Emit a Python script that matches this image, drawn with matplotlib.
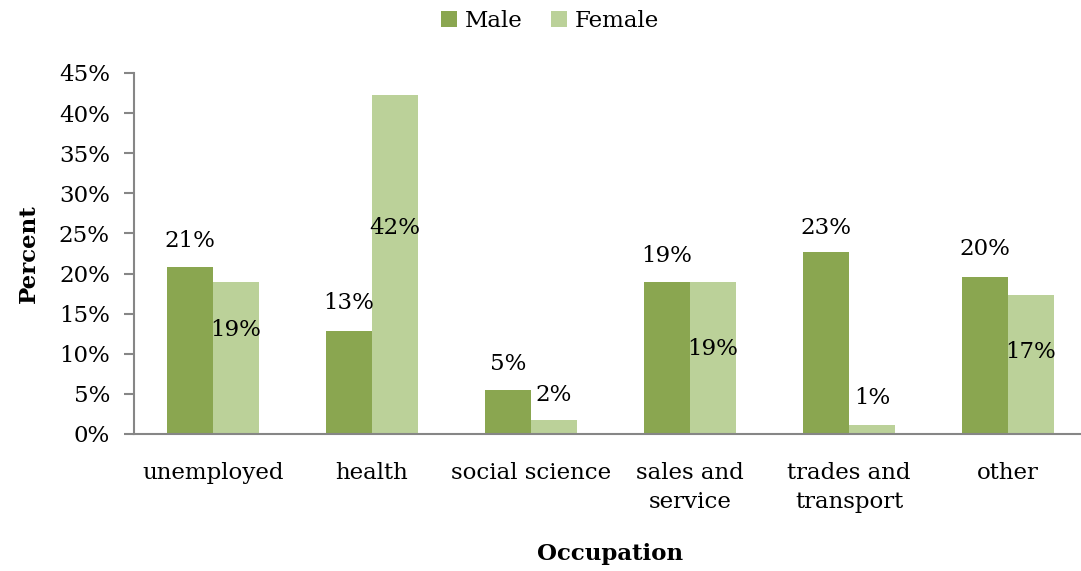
import matplotlib
matplotlib.use("Agg")
import matplotlib.pyplot as plt
import numpy as np

categories = ["unemployed", "health", "social science", "sales and\nservice", "trades and\ntransport", "other"]
male = [20.8, 12.8, 5.5, 19.0, 22.7, 19.6]
female = [19.0, 42.2, 1.7, 19.0, 1.1, 17.3]
male_labels = ["21%", "13%", "5%", "19%", "23%", "20%"]
female_labels = ["19%", "42%", "2%", "19%", "1%", "17%"]
yticks = [0, 5, 10, 15, 20, 25, 30, 35, 40, 45]

# label vertical placement (offset from bar top, in percent units)
male_off = [3.3, 3.5, 3.2, 3.2, 3.0, 3.5]
female_off = [-6.0, -16.5, 3.2, -8.4, 3.4, -7.1]

plt.rcParams['font.family'] = ['DejaVu Serif']
c_male = "#8AA650"
c_female = "#BBD199"

fig = plt.figure(figsize=(10.81, 5.71), dpi=100)
W, H = 1081, 571
ax = fig.add_axes([133.5 / W, (H - 434) / H, 954 / W, 361 / H])

x = np.arange(len(categories))
bw = 0.29
ax.bar(x - bw / 2, male, bw, color=c_male, label="Male")
ax.bar(x + bw / 2, female, bw, color=c_female, label="Female")

fs = 16.5
for i in range(len(categories)):
    ax.text(x[i] - bw / 2, male[i] + male_off[i], male_labels[i], ha="center", va="center", fontsize=fs)
    ax.text(x[i] + bw / 2, female[i] + female_off[i], female_labels[i], ha="center", va="center", fontsize=fs)

ax.set_xlim(-0.5, len(categories) - 0.5)
ax.set_ylim(0, 45)
ax.set_yticks(yticks)
ax.set_yticklabels([f"{v}%" for v in yticks], fontsize=fs)
ax.set_xticks(x)
ax.set_xticklabels(categories, fontsize=fs, linespacing=1.45)
ax.tick_params(axis="x", length=0, pad=20)
ax.tick_params(axis="y", length=7, width=1.5, color="#868686", pad=10)
for s in ["top", "right"]:
    ax.spines[s].set_visible(False)
for s in ["left", "bottom"]:
    ax.spines[s].set_color("#868686")
    ax.spines[s].set_linewidth(1.5)

ax.set_ylabel("Percent", fontsize=fs, fontweight="bold", labelpad=14)
ax.set_xlabel("Occupation", fontsize=fs, fontweight="bold", labelpad=21)

fig.legend(loc="upper center", bbox_to_anchor=(550 / W, 1.018), ncol=2, frameon=False,
           fontsize=fs, handlelength=0.7, handleheight=0.7, columnspacing=1.2, handletextpad=0.35)

fig.savefig("out.png", dpi=100)
